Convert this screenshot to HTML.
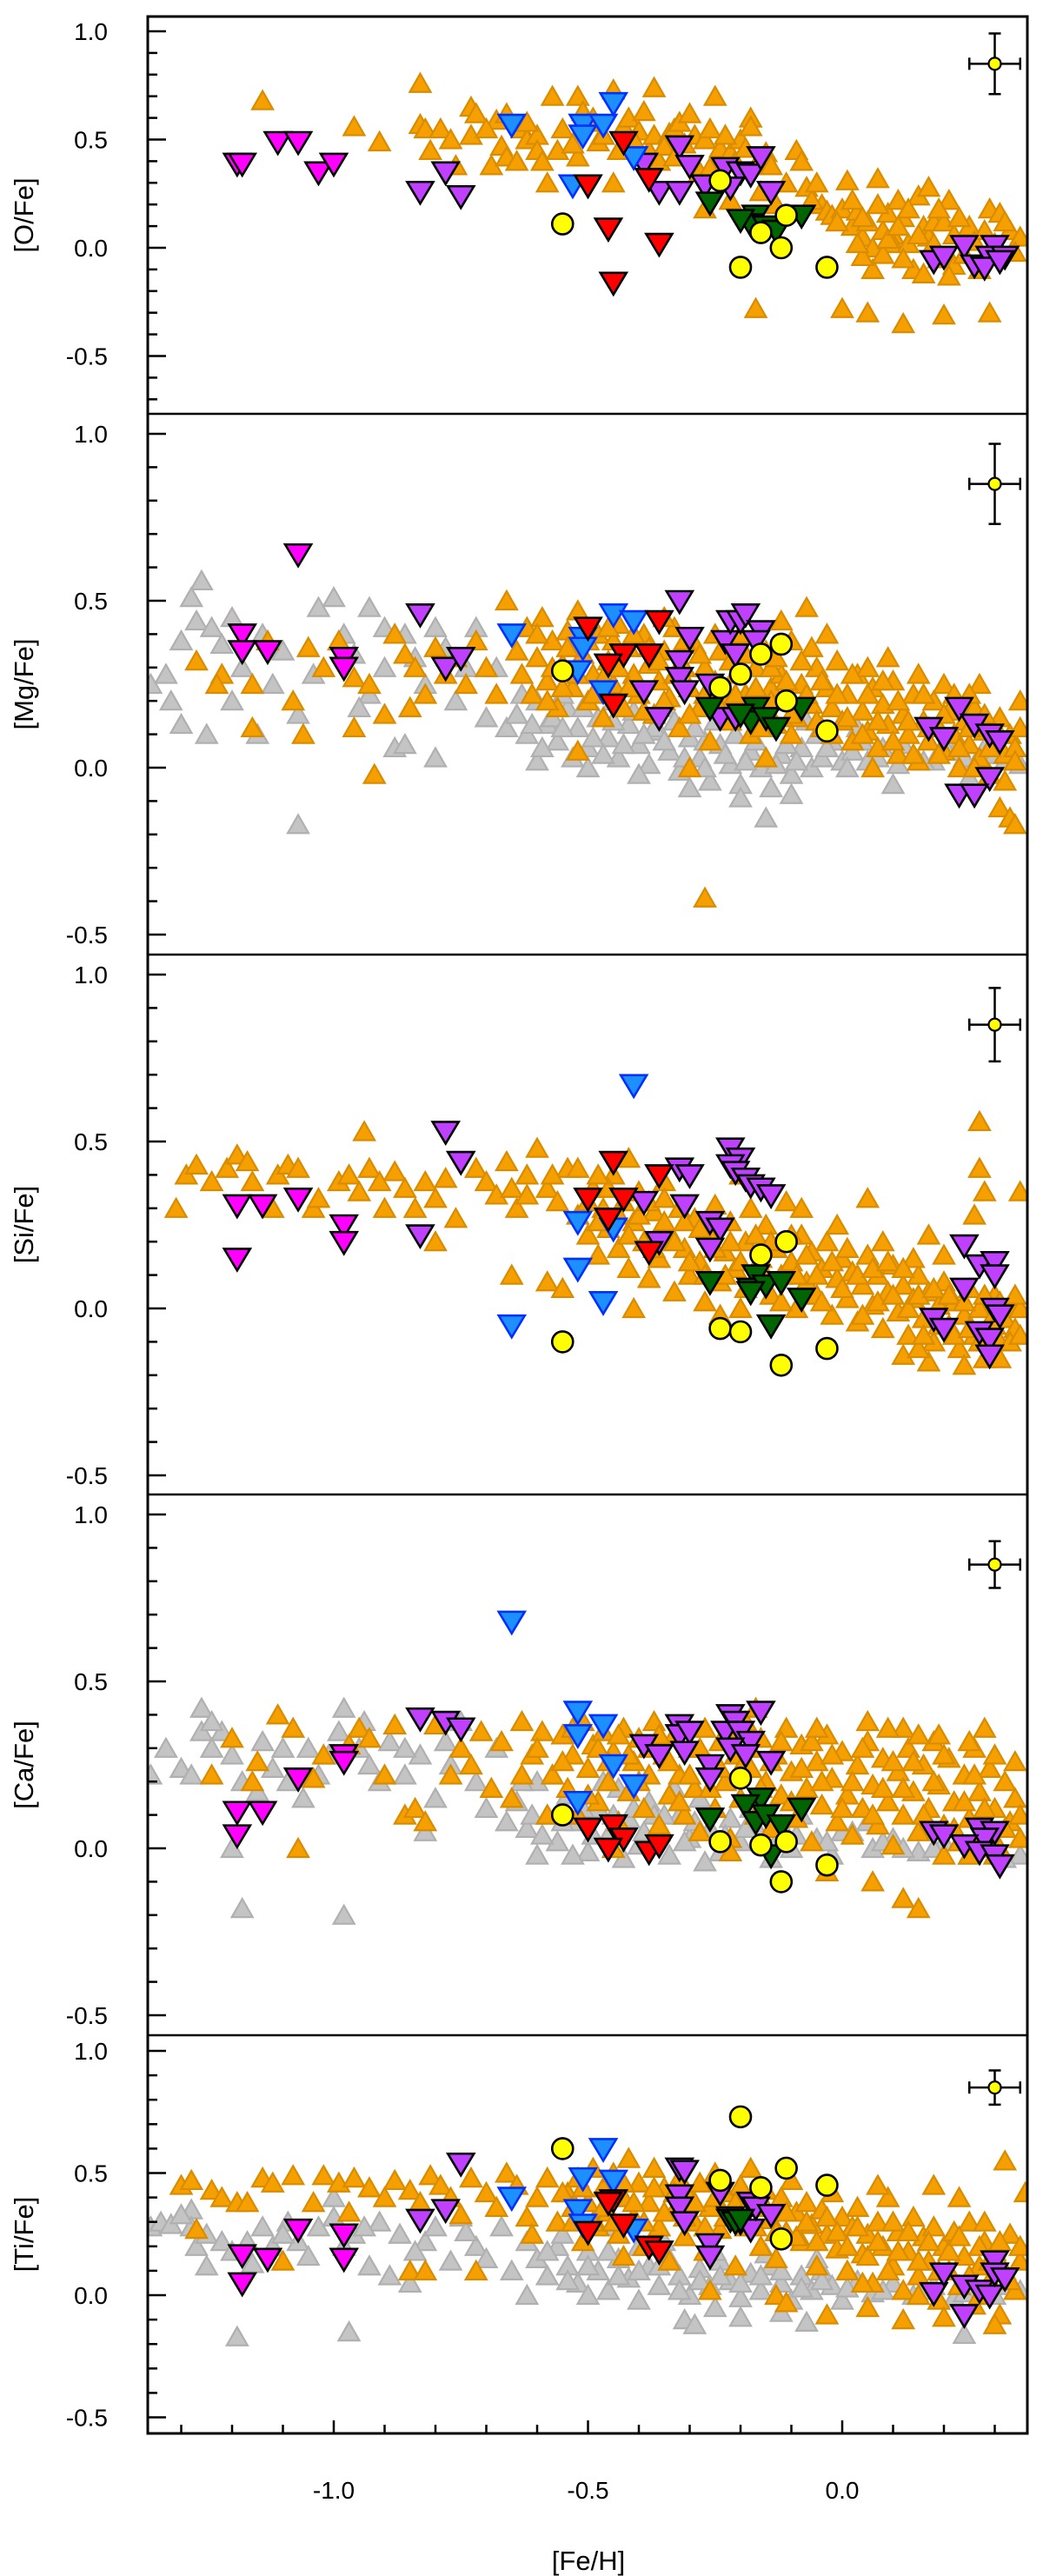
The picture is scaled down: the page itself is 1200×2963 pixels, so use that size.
<!DOCTYPE html>
<html><head><meta charset="utf-8"><title>[X/Fe] vs [Fe/H]</title>
<style>html,body{margin:0;padding:0;background:#fff}svg{display:block;font-family:"Liberation Sans",sans-serif}</style>
</head><body>
<svg id="chart" xmlns="http://www.w3.org/2000/svg" width="1200" height="2963" viewBox="0 0 1200 2963"></svg>
<script>
// ---------- data: [Fe/H], [X/Fe] pairs ----------
const oOrange=[[-1.14,0.68],[-0.96,0.56],[-0.91,0.49],[-0.83,0.76],[-0.83,0.57],[-0.82,0.55],[-0.79,0.55],[-0.81,0.45],[-0.76,0.38],[-0.73,0.65],[-0.72,0.62],[-0.73,0.52],[-0.69,0.38],[-0.68,0.59],[-0.66,0.62],[-0.67,0.47],[-0.66,0.42],[-0.64,0.40],[-0.63,0.55],[-0.62,0.50],[-0.60,0.52],[-0.60,0.45],[-0.59,0.40],[-0.58,0.30],[-0.57,0.70],[-0.56,0.45],[-0.52,0.70],[-0.52,0.42],[-0.51,0.63],[-0.50,0.58],[-0.49,0.60],[-0.48,0.49],[-0.45,0.30],[-0.45,0.73],[-0.43,0.56],[-0.42,0.60],[-0.40,0.54],[-0.39,0.63],[-0.38,0.45],[-0.37,0.74],[-0.37,0.52],[-0.36,0.40],[-0.34,0.53],[-0.33,0.55],[-0.32,0.58],[-0.31,0.48],[-0.30,0.62],[-0.29,0.52],[-0.28,0.35],[-0.27,0.18],[-0.25,0.70],[-0.24,0.46],[-0.22,0.44],[-0.20,0.50],[-0.18,0.60],[-0.18,0.56],[-0.17,0.38],[-0.16,0.26],[-0.15,0.44],[-0.13,0.20],[-0.09,0.45],[-0.08,0.40],[-0.07,0.28],[-0.04,0.20],[-0.03,0.17],[-0.02,0.15],[0.00,0.18],[0.01,0.31],[0.02,0.10],[0.03,0.17],[0.04,0.05],[0.05,0.12],[0.06,0.00],[0.06,-0.10],[0.07,0.32],[0.08,0.08],[0.09,0.16],[0.10,0.06],[0.10,0.02],[0.11,0.22],[0.12,0.14],[0.13,0.02],[0.14,-0.10],[0.15,0.24],[0.16,0.10],[0.17,0.05],[0.17,0.28],[0.18,0.12],[0.19,-0.05],[0.20,0.12],[0.21,0.22],[0.22,-0.08],[0.25,0.10],[0.27,-0.10],[0.29,0.18],[0.30,0.02],[0.31,0.16],[0.33,0.08],[0.35,0.05],[0.24,-0.03],[0.21,-0.13],[0.08,-0.03],[0.04,-0.04],[-0.17,-0.28],[0.00,-0.28],[0.05,-0.30],[0.12,-0.35],[0.20,-0.31],[0.29,-0.30],[-0.26,0.37],[-0.22,0.22]];
const oOrangeB=[[-0.55,0.55],[-0.53,0.48],[-0.47,0.52],[-0.44,0.45],[-0.41,0.50],[-0.35,0.47],[-0.33,0.42],[-0.27,0.50],[-0.26,0.55],[-0.23,0.52],[-0.21,0.40],[-0.19,0.46],[-0.14,0.38],[-0.11,0.30],[-0.06,0.22],[-0.05,0.30],[-0.01,0.12],[0.02,0.22],[0.04,0.14],[0.07,0.20],[0.09,0.04],[0.11,0.10],[0.13,0.18],[0.15,0.06],[0.18,0.02],[0.19,0.18],[0.22,0.06],[0.23,0.14],[0.26,0.03],[0.28,0.08],[0.32,0.12],[0.34,-0.02],[0.12,-0.05],[0.16,-0.12],[0.03,0.02],[-0.62,0.58],[-0.70,0.55],[-0.77,0.50]];
const oMagenta=[[-1.19,0.39],[-1.18,0.39],[-1.11,0.49],[-1.07,0.49],[-1.03,0.35],[-1.00,0.39]];
const oPurple=[[-0.83,0.26],[-0.78,0.35],[-0.75,0.24],[-0.32,0.47],[-0.39,0.39],[-0.36,0.26],[-0.32,0.26],[-0.30,0.38],[-0.27,0.29],[-0.23,0.37],[-0.20,0.35],[-0.18,0.34],[-0.16,0.42],[-0.14,0.26],[-0.22,0.28],[0.18,-0.06],[0.20,-0.04],[0.24,0.01],[0.26,-0.08],[0.30,0.01],[0.29,-0.04],[0.28,-0.09],[0.32,-0.04],[0.31,-0.06]];
const oBlue=[[-0.65,0.57],[-0.51,0.57],[-0.51,0.52],[-0.47,0.57],[-0.45,0.67],[-0.41,0.42],[-0.53,0.29]];
const oRed=[[-0.50,0.29],[-0.46,0.09],[-0.43,0.49],[-0.38,0.32],[-0.36,0.02],[-0.45,-0.16]];
const oGreen=[[-0.26,0.21],[-0.17,0.15],[-0.18,0.11],[-0.15,0.10],[-0.13,0.08],[-0.08,0.15],[-0.20,0.13]];
const oYellow=[[-0.55,0.11],[-0.24,0.31],[-0.20,-0.09],[-0.16,0.07],[-0.11,0.15],[-0.12,0.00],[-0.03,-0.09]];
const oErr=[0.30,0.85,0.05,0.14];

const mgOrange=[[-1.27,0.32],[-1.22,0.28],[-1.16,0.25],[-1.13,0.38],[-1.08,0.20],[-1.05,0.36],[-1.02,0.30],[-0.99,0.38],[-0.96,0.27],[-0.96,0.12],[-0.93,0.25],[-0.90,0.16],[-0.88,0.40],[-0.86,0.34],[-0.84,0.30],[-0.82,0.22],[-0.80,0.36],[-0.78,0.28],[-0.76,0.33],[-0.74,0.25],[-0.72,0.38],[-0.70,0.30],[-0.68,0.22],[-0.92,-0.02],[-1.23,0.25],[-1.16,0.12],[-1.06,0.10],[-0.85,0.18],[-0.66,0.50],[-0.64,0.35],[-0.63,0.28],[-0.62,0.42],[-0.61,0.22],[-0.60,0.33],[-0.59,0.45],[-0.58,0.26],[-0.57,0.38],[-0.56,0.18],[-0.55,0.31],[-0.54,0.41],[-0.53,0.24],[-0.52,0.47],[-0.51,0.34],[-0.50,0.20],[-0.49,0.28],[-0.48,0.40],[-0.47,0.15],[-0.46,0.32],[-0.45,0.25],[-0.44,0.43],[-0.43,0.18],[-0.42,0.36],[-0.41,0.28],[-0.40,0.22],[-0.39,0.40],[-0.38,0.31],[-0.37,0.16],[-0.36,0.26],[-0.35,0.35],[-0.34,0.21],[-0.33,0.42],[-0.32,0.12],[-0.31,0.30],[-0.30,0.24],[-0.29,0.37],[-0.28,0.18],[-0.27,0.30],[-0.26,0.08],[-0.25,0.26],[-0.24,0.35],[-0.23,0.20],[-0.22,0.14],[-0.21,0.28],[-0.20,0.40],[-0.19,0.22],[-0.18,0.10],[-0.17,0.30],[-0.16,0.17],[-0.15,0.35],[-0.14,0.24],[-0.13,0.13],[-0.12,0.28],[-0.11,0.20],[-0.10,0.38],[-0.09,0.15],[-0.08,0.25],[-0.07,0.48],[-0.06,0.19],[-0.05,0.30],[-0.04,0.12],[-0.03,0.24],[-0.02,0.18],[-0.01,0.32],[0.00,0.14],[0.01,0.22],[0.02,0.08],[0.03,0.28],[0.04,0.17],[0.05,0.11],[0.06,0.24],[0.07,0.06],[0.08,0.19],[0.09,0.13],[0.10,0.26],[0.11,0.04],[0.12,0.16],[0.13,0.10],[0.14,0.22],[0.15,0.02],[0.16,0.14],[0.17,0.08],[0.18,0.20],[0.19,0.12],[0.20,0.05],[0.21,0.17],[0.22,0.10],[0.23,0.00],[0.24,0.14],[0.25,0.07],[0.26,0.18],[0.27,0.03],[0.28,0.11],[0.29,-0.02],[0.30,0.08],[0.31,0.15],[0.32,0.04],[0.33,0.10],[0.34,0.06],[0.35,0.12],[0.27,0.25],[0.31,-0.12],[0.33,-0.15],[0.34,-0.17],[0.06,0.00],[-0.15,0.03],[-0.30,0.00],[-0.52,0.05],[-0.27,-0.39],[-0.14,0.30],[-0.10,0.10],[0.05,0.30],[0.15,0.28],[0.20,0.25],[-0.06,0.36],[-0.45,0.38],[-0.35,0.45]];
const mgOrangeB=[[-0.60,0.40],[-0.58,0.20],[-0.57,0.30],[-0.55,0.24],[-0.54,0.36],[-0.52,0.28],[-0.50,0.38],[-0.49,0.22],[-0.47,0.27],[-0.46,0.42],[-0.44,0.30],[-0.42,0.24],[-0.41,0.40],[-0.39,0.17],[-0.38,0.36],[-0.36,0.32],[-0.35,0.20],[-0.33,0.28],[-0.31,0.38],[-0.30,0.16],[-0.28,0.34],[-0.27,0.22],[-0.25,0.40],[-0.24,0.18],[-0.22,0.32],[-0.21,0.22],[-0.19,0.34],[-0.17,0.24],[-0.16,0.12],[-0.14,0.20],[-0.13,0.33],[-0.11,0.26],[-0.10,0.16],[-0.08,0.32],[-0.07,0.22],[-0.05,0.14],[-0.04,0.26],[-0.02,0.10],[-0.01,0.22],[0.01,0.15],[0.02,0.28],[0.04,0.10],[0.05,0.22],[0.07,0.14],[0.08,0.26],[0.10,0.08],[0.11,0.20],[0.13,0.14],[0.14,0.04],[0.16,0.22],[0.17,0.12],[0.19,0.04],[0.20,0.16],[0.22,0.22],[0.23,0.06],[0.25,0.12],[0.26,0.00],[0.28,0.16],[0.29,0.06],[0.31,0.10],[0.32,-0.04],[0.34,0.02],[0.35,0.20],[-0.12,0.44],[-0.03,0.40],[0.09,0.33],[0.25,0.22]];
const mgGrey=[[-1.36,0.25],[-1.33,0.28],[-1.30,0.38],[-1.28,0.51],[-1.26,0.56],[-1.27,0.44],[-1.24,0.42],[-1.22,0.37],[-1.30,0.13],[-1.25,0.10],[-1.20,0.20],[-1.18,0.30],[-1.15,0.10],[-1.12,0.25],[-1.10,0.35],[-1.07,0.16],[-1.04,0.28],[-1.03,0.48],[-1.00,0.51],[-0.98,0.40],[-0.96,0.34],[-0.93,0.22],[-0.93,0.48],[-0.90,0.30],[-0.88,0.06],[-0.86,0.40],[-0.84,0.33],[-0.82,0.25],[-0.80,0.42],[-0.78,0.36],[-0.76,0.20],[-0.74,0.30],[-0.72,0.42],[-0.70,0.15],[-0.68,0.30],[-0.66,0.12],[-1.07,-0.17],[-0.80,0.03],[-0.86,0.07],[-0.64,0.16],[-0.62,0.10],[-0.60,0.20],[-0.58,0.13],[-0.56,0.08],[-0.54,0.18],[-0.52,0.12],[-0.50,0.06],[-0.48,0.15],[-0.46,0.09],[-0.44,0.03],[-0.42,0.13],[-0.40,0.07],[-0.38,0.01],[-0.36,0.11],[-0.34,0.05],[-0.32,-0.01],[-0.30,0.09],[-0.28,0.03],[-0.26,-0.04],[-0.24,0.07],[-0.22,0.01],[-0.20,-0.05],[-0.18,0.05],[-0.16,0.00],[-0.14,-0.06],[-0.12,0.04],[-0.10,-0.02],[-0.08,0.06],[-0.06,0.00],[-0.04,0.03],[-0.02,0.08],[0.00,0.02],[0.02,0.05],[0.05,0.02],[0.08,0.06],[0.11,0.01],[0.14,0.04],[0.18,0.02],[0.22,0.05],[0.26,0.01],[0.30,0.04],[0.35,0.01],[-0.55,0.22],[-0.45,0.20],[-0.35,0.18],[-0.25,0.14],[-0.15,0.12],[-0.05,0.10],[-0.60,0.02],[-0.50,0.00],[-0.40,-0.02],[-0.30,-0.06],[-0.20,-0.09],[-0.10,-0.08],[0.10,-0.05],[0.25,-0.03],[-0.15,-0.15],[-0.27,0.08],[-0.37,0.12],[-0.47,0.04],[-0.57,0.15],[-0.07,0.14],[0.03,0.12]];
const mgGreyB=[[-0.63,0.22],[-0.61,0.13],[-0.59,0.06],[-0.55,0.12],[-0.53,0.03],[-0.51,0.18],[-0.49,0.09],[-0.45,0.14],[-0.43,0.07],[-0.41,0.17],[-0.39,0.10],[-0.35,0.08],[-0.33,0.14],[-0.31,0.03],[-0.29,0.12],[-0.27,0.00],[-0.23,0.04],[-0.21,0.10],[-0.19,0.02],[-0.17,0.08],[-0.13,0.01],[-0.11,0.07],[-0.09,0.02],[-0.03,0.06],[0.01,0.00],[0.04,0.08],[0.07,0.03],[0.12,0.07],[0.16,0.02],[0.20,0.07],[0.24,0.03],[0.28,0.06],[0.32,0.02],[-1.20,0.45],[-1.14,0.40],[-0.90,0.42],[-0.95,0.18],[-1.32,0.20]];
const mgMagenta=[[-1.07,0.64],[-1.18,0.40],[-1.18,0.35],[-1.13,0.35],[-0.98,0.33],[-0.98,0.30]];
const mgPurple=[[-0.83,0.46],[-0.78,0.30],[-0.75,0.33],[-0.32,0.50],[-0.30,0.39],[-0.32,0.32],[-0.32,0.27],[-0.31,0.23],[-0.39,0.23],[-0.36,0.15],[-0.26,0.25],[-0.23,0.38],[-0.22,0.44],[-0.20,0.44],[-0.19,0.46],[-0.16,0.41],[-0.21,0.34],[-0.17,0.38],[-0.24,0.15],[-0.21,0.15],[0.23,0.18],[0.17,0.12],[0.20,0.09],[0.26,0.13],[0.29,0.10],[0.31,0.08],[0.29,-0.03],[0.23,-0.08],[0.26,-0.08]];
const mgBlue=[[-0.65,0.40],[-0.51,0.39],[-0.51,0.36],[-0.52,0.29],[-0.45,0.46],[-0.41,0.44],[-0.47,0.23]];
const mgRed=[[-0.50,0.42],[-0.43,0.34],[-0.46,0.31],[-0.38,0.34],[-0.36,0.44],[-0.45,0.19]];
const mgGreen=[[-0.26,0.18],[-0.17,0.18],[-0.18,0.14],[-0.15,0.15],[-0.13,0.12],[-0.08,0.18],[-0.20,0.16]];
const mgYellow=[[-0.55,0.29],[-0.24,0.24],[-0.20,0.28],[-0.16,0.34],[-0.12,0.37],[-0.11,0.20],[-0.03,0.11]];
const mgErr=[0.30,0.85,0.05,0.12];

const siOrange=[[-1.31,0.30],[-1.29,0.40],[-1.27,0.43],[-1.24,0.38],[-1.21,0.42],[-1.19,0.46],[-1.17,0.44],[-1.16,0.38],[-1.12,0.30],[-1.11,0.40],[-1.09,0.43],[-1.07,0.42],[-1.04,0.30],[-1.03,0.33],[-0.99,0.38],[-0.97,0.40],[-0.95,0.35],[-0.93,0.42],[-0.91,0.38],[-0.90,0.30],[-0.88,0.41],[-0.86,0.36],[-0.84,0.30],[-0.82,0.38],[-0.80,0.33],[-0.78,0.39],[-0.76,0.27],[-0.72,0.42],[-0.70,0.38],[-0.68,0.34],[-0.66,0.44],[-0.64,0.30],[-0.62,0.40],[-0.60,0.48],[-0.58,0.36],[-0.56,0.32],[-0.54,0.42],[-0.94,0.53],[-0.80,0.20],[-0.65,0.10],[-0.58,0.08],[-0.55,0.06],[-0.52,0.28],[-0.50,0.22],[-0.49,0.36],[-0.48,0.16],[-0.47,0.30],[-0.46,0.24],[-0.45,0.40],[-0.44,0.18],[-0.43,0.32],[-0.42,0.12],[-0.41,0.26],[-0.40,0.35],[-0.39,0.20],[-0.38,0.09],[-0.37,0.29],[-0.36,0.15],[-0.35,0.38],[-0.34,0.23],[-0.33,0.05],[-0.32,0.30],[-0.31,0.18],[-0.30,0.10],[-0.29,0.27],[-0.28,0.14],[-0.27,0.02],[-0.26,0.22],[-0.25,0.31],[-0.24,0.08],[-0.23,0.17],[-0.22,0.26],[-0.21,0.12],[-0.20,0.00],[-0.19,0.20],[-0.18,0.30],[-0.17,0.09],[-0.16,0.15],[-0.15,0.25],[-0.14,0.04],[-0.13,0.18],[-0.12,0.10],[-0.11,0.32],[-0.10,0.14],[-0.09,0.00],[-0.08,0.22],[-0.07,0.08],[-0.06,0.17],[-0.05,0.04],[-0.04,0.12],[-0.03,0.20],[-0.02,-0.02],[-0.01,0.09],[0.00,0.15],[0.01,0.03],[0.02,0.11],[0.03,-0.04],[0.04,0.07],[0.05,0.16],[0.06,0.01],[0.07,0.10],[0.08,-0.06],[0.09,0.05],[0.10,0.13],[0.11,-0.01],[0.12,0.07],[0.13,-0.08],[0.14,0.03],[0.15,0.10],[0.16,-0.03],[0.17,0.05],[0.18,-0.10],[0.19,0.01],[0.20,0.08],[0.21,-0.05],[0.22,0.02],[0.23,-0.12],[0.24,-0.02],[0.25,0.06],[0.26,-0.08],[0.27,0.00],[0.28,-0.15],[0.29,-0.04],[0.30,0.04],[0.31,-0.10],[0.32,-0.03],[0.33,0.01],[0.34,-0.06],[0.35,0.00],[0.08,0.20],[0.05,0.33],[0.17,0.22],[0.26,0.28],[0.28,0.35],[0.27,0.42],[0.35,0.35],[0.14,0.15],[-0.01,0.25],[0.20,0.16],[0.12,-0.14],[0.17,-0.16],[0.24,-0.17],[0.31,-0.15],[0.15,-0.12],[-0.41,0.00],[-0.24,-0.02],[-0.20,0.40],[-0.08,0.30],[0.27,0.56]];
const siOrangeB=[[-0.50,0.32],[-0.48,0.26],[-0.46,0.36],[-0.44,0.28],[-0.42,0.22],[-0.40,0.28],[-0.38,0.32],[-0.37,0.18],[-0.35,0.26],[-0.33,0.20],[-0.31,0.26],[-0.30,0.14],[-0.28,0.24],[-0.27,0.10],[-0.25,0.18],[-0.23,0.10],[-0.22,0.20],[-0.20,0.14],[-0.19,0.06],[-0.17,0.22],[-0.15,0.10],[-0.14,0.20],[-0.12,0.02],[-0.10,0.22],[-0.09,0.10],[-0.07,0.16],[-0.05,0.10],[-0.04,0.02],[-0.02,0.14],[0.00,0.06],[0.01,0.18],[0.03,0.10],[0.04,-0.02],[0.06,0.12],[0.07,0.02],[0.09,0.14],[0.10,0.04],[0.12,0.12],[0.13,0.00],[0.15,0.04],[0.16,-0.08],[0.18,0.06],[0.19,-0.05],[0.21,0.04],[0.22,-0.08],[0.24,0.02],[0.25,-0.06],[0.27,-0.10],[0.28,0.04],[0.30,-0.05],[0.31,0.02],[0.33,-0.10],[0.34,0.04],[0.35,-0.08],[-0.65,0.36],[-0.62,0.34],[-0.57,0.40],[-0.52,0.42],[-0.48,0.40],[-0.42,0.45],[-0.35,0.33]];
const siMagenta=[[-1.19,0.31],[-1.14,0.31],[-1.07,0.33],[-0.98,0.25],[-0.98,0.20],[-1.19,0.15]];
const siPurple=[[-0.78,0.53],[-0.75,0.44],[-0.83,0.22],[-0.32,0.42],[-0.30,0.40],[-0.39,0.32],[-0.31,0.31],[-0.22,0.48],[-0.20,0.45],[-0.22,0.43],[-0.21,0.41],[-0.19,0.39],[-0.18,0.37],[-0.16,0.36],[-0.14,0.34],[-0.26,0.26],[-0.24,0.24],[-0.26,0.18],[-0.36,0.20],[0.24,0.19],[0.27,0.13],[0.30,0.14],[0.30,0.10],[0.24,0.06],[0.18,-0.03],[0.20,-0.06],[0.27,-0.07],[0.29,-0.09],[0.30,0.00],[0.31,-0.02],[0.29,-0.14]];
const siBlue=[[-0.41,0.67],[-0.52,0.26],[-0.45,0.24],[-0.52,0.12],[-0.47,0.02],[-0.65,-0.05]];
const siRed=[[-0.45,0.44],[-0.36,0.40],[-0.50,0.33],[-0.43,0.33],[-0.46,0.27],[-0.38,0.17]];
const siGreen=[[-0.26,0.08],[-0.17,0.10],[-0.18,0.06],[-0.15,0.07],[-0.12,0.08],[-0.18,0.05],[-0.08,0.03],[-0.14,-0.05]];
const siYellow=[[-0.55,-0.10],[-0.24,-0.06],[-0.20,-0.07],[-0.16,0.16],[-0.11,0.20],[-0.12,-0.17],[-0.03,-0.12]];
const siErr=[0.30,0.85,0.05,0.11];

const caOrange=[[-1.24,0.22],[-1.20,0.33],[-1.16,0.20],[-1.15,0.26],[-1.11,0.40],[-1.08,0.36],[-1.04,0.21],[-1.02,0.28],[-1.07,0.00],[-0.97,0.31],[-0.95,0.36],[-0.93,0.33],[-0.90,0.22],[-0.88,0.37],[-0.86,0.10],[-0.84,0.12],[-0.82,0.08],[-0.80,0.37],[-0.77,0.22],[-0.75,0.30],[-0.73,0.25],[-0.71,0.35],[-0.69,0.18],[-0.67,0.32],[-0.65,0.15],[-0.63,0.38],[-0.61,0.28],[-0.59,0.35],[-0.57,0.22],[-0.55,0.34],[-0.54,0.18],[-0.53,0.28],[-0.52,0.10],[-0.51,0.38],[-0.50,0.24],[-0.49,0.31],[-0.48,0.14],[-0.47,0.35],[-0.46,0.20],[-0.45,0.29],[-0.44,0.08],[-0.43,0.36],[-0.42,0.17],[-0.41,0.26],[-0.40,0.33],[-0.39,0.12],[-0.38,0.22],[-0.37,0.38],[-0.36,0.07],[-0.35,0.28],[-0.34,0.16],[-0.33,0.34],[-0.32,0.22],[-0.31,0.10],[-0.30,0.30],[-0.29,0.18],[-0.28,0.05],[-0.27,0.36],[-0.26,0.25],[-0.25,0.12],[-0.24,0.32],[-0.23,0.20],[-0.22,0.03],[-0.21,0.28],[-0.20,0.15],[-0.19,0.38],[-0.18,0.24],[-0.17,0.10],[-0.16,0.33],[-0.15,0.20],[-0.14,0.06],[-0.13,0.28],[-0.12,0.16],[-0.11,0.36],[-0.10,0.23],[-0.09,0.09],[-0.08,0.31],[-0.07,0.18],[-0.06,0.02],[-0.05,0.26],[-0.04,0.13],[-0.03,0.34],[-0.02,0.21],[-0.01,0.08],[0.00,0.29],[0.01,0.16],[0.02,0.04],[0.03,0.25],[0.04,0.12],[0.05,0.32],[0.06,0.19],[0.07,0.07],[0.08,0.27],[0.09,0.14],[0.10,0.01],[0.11,0.23],[0.12,0.10],[0.13,0.30],[0.14,0.17],[0.15,0.05],[0.16,0.25],[0.17,0.12],[0.18,0.32],[0.19,0.19],[0.20,0.07],[0.21,0.27],[0.22,0.14],[0.23,0.02],[0.24,0.22],[0.25,0.09],[0.26,0.30],[0.27,0.17],[0.28,0.04],[0.29,0.24],[0.30,0.12],[0.31,0.00],[0.32,0.20],[0.33,0.08],[0.34,0.15],[0.35,0.03],[0.05,0.38],[0.12,0.36],[0.19,0.34],[0.25,0.32],[-0.17,0.42],[0.06,-0.10],[0.12,-0.15],[0.15,-0.18],[-0.03,-0.07],[0.25,-0.02],[0.30,-0.02],[0.20,-0.02],[-0.22,-0.01],[-0.45,0.00]];
const caOrangeB=[[-0.55,0.26],[-0.53,0.36],[-0.50,0.16],[-0.48,0.30],[-0.46,0.26],[-0.44,0.34],[-0.42,0.28],[-0.40,0.20],[-0.38,0.30],[-0.36,0.34],[-0.34,0.26],[-0.32,0.14],[-0.30,0.22],[-0.28,0.30],[-0.26,0.18],[-0.24,0.24],[-0.22,0.34],[-0.20,0.24],[-0.18,0.30],[-0.16,0.18],[-0.14,0.26],[-0.12,0.32],[-0.10,0.14],[-0.08,0.24],[-0.06,0.32],[-0.04,0.20],[-0.02,0.28],[0.00,0.12],[0.02,0.20],[0.04,0.30],[0.06,0.10],[0.08,0.18],[0.10,0.26],[0.12,0.18],[0.14,0.26],[0.16,0.10],[0.18,0.20],[0.20,0.28],[0.22,0.06],[0.24,0.14],[0.26,0.22],[0.28,0.12],[0.30,0.28],[0.32,0.06],[0.34,0.26],[0.35,0.10],[-0.60,0.30],[-0.63,0.22],[-0.58,0.10],[0.09,0.36],[0.28,0.36],[-0.05,0.36],[0.15,0.34]];
const caGrey=[[-1.36,0.22],[-1.33,0.30],[-1.30,0.24],[-1.28,0.22],[-1.26,0.42],[-1.26,0.35],[-1.24,0.30],[-1.22,0.35],[-1.20,0.28],[-1.18,0.20],[-1.15,0.17],[-1.12,0.24],[-1.10,0.30],[-1.09,0.20],[-1.06,0.15],[-1.03,0.22],[-1.01,0.28],[-0.99,0.35],[-0.98,0.42],[-0.95,0.30],[-0.93,0.25],[-0.91,0.20],[-0.89,0.32],[-0.86,0.22],[-0.83,0.28],[-0.80,0.15],[-0.77,0.25],[-0.75,0.38],[-0.72,0.20],[-0.70,0.12],[-0.68,0.30],[-0.66,0.08],[-1.18,-0.18],[-0.98,-0.20],[-1.20,0.00],[-0.82,0.05],[-0.64,0.14],[-0.62,0.06],[-0.60,0.20],[-0.58,0.10],[-0.56,0.02],[-0.54,0.16],[-0.52,0.08],[-0.50,-0.01],[-0.48,0.12],[-0.46,0.04],[-0.44,0.18],[-0.42,0.09],[-0.40,0.01],[-0.38,0.14],[-0.36,0.05],[-0.34,-0.02],[-0.32,0.10],[-0.30,0.03],[-0.28,0.15],[-0.26,0.06],[-0.24,-0.01],[-0.22,0.09],[-0.20,0.02],[-0.18,0.12],[-0.16,0.04],[-0.14,-0.03],[-0.12,0.07],[-0.10,0.00],[-0.08,0.10],[-0.05,0.03],[-0.02,-0.02],[0.02,0.05],[0.06,0.00],[0.10,0.03],[0.15,-0.01],[0.20,0.02],[0.25,-0.02],[0.30,0.00],[0.35,-0.02],[-0.57,0.22],[-0.47,0.20],[-0.53,-0.02],[-0.43,-0.03],[-0.33,0.18],[-0.25,0.12],[-0.15,0.10],[0.05,0.08],[-0.60,-0.02],[-0.37,0.10],[-0.27,-0.04]];
const caGreyB=[[-0.63,0.20],[-0.61,0.10],[-0.59,0.04],[-0.55,0.08],[-0.51,0.12],[-0.49,0.04],[-0.45,0.10],[-0.41,0.12],[-0.39,0.05],[-0.35,0.10],[-0.31,0.02],[-0.29,0.08],[-0.23,0.04],[-0.19,0.06],[-0.13,0.02],[-0.09,0.04],[-0.03,0.02],[0.00,0.05],[0.08,0.02],[0.12,0.00],[0.18,0.00],[0.27,0.01],[0.32,-0.03],[-1.24,0.38],[-1.14,0.32],[-1.05,0.30],[-0.94,0.38],[-0.86,0.30],[-0.78,0.32]];
const caMagenta=[[-1.19,0.11],[-1.14,0.11],[-1.19,0.04],[-1.07,0.21],[-0.98,0.28],[-0.98,0.26]];
const caPurple=[[-0.83,0.39],[-0.78,0.38],[-0.75,0.36],[-0.32,0.37],[-0.32,0.34],[-0.30,0.35],[-0.31,0.29],[-0.39,0.31],[-0.36,0.28],[-0.22,0.40],[-0.21,0.38],[-0.16,0.41],[-0.23,0.35],[-0.20,0.35],[-0.18,0.32],[-0.22,0.30],[-0.19,0.28],[-0.14,0.26],[-0.26,0.25],[-0.26,0.21],[0.18,0.05],[0.20,0.04],[0.27,0.06],[0.30,0.05],[0.28,0.03],[0.24,0.01],[0.27,-0.01],[0.30,-0.02],[0.31,-0.05]];
const caBlue=[[-0.65,0.68],[-0.52,0.41],[-0.47,0.37],[-0.52,0.34],[-0.45,0.25],[-0.41,0.19],[-0.52,0.14]];
const caRed=[[-0.50,0.06],[-0.45,0.07],[-0.43,0.03],[-0.46,0.00],[-0.38,-0.01],[-0.36,0.01]];
const caGreen=[[-0.16,0.15],[-0.19,0.13],[-0.17,0.08],[-0.15,0.10],[-0.12,0.07],[-0.08,0.12],[-0.26,0.09],[-0.14,-0.02]];
const caYellow=[[-0.55,0.10],[-0.20,0.21],[-0.24,0.02],[-0.16,0.01],[-0.11,0.02],[-0.03,-0.05],[-0.12,-0.10]];
const caErr=[0.30,0.85,0.05,0.07];

const tiOrange=[[-1.30,0.45],[-1.28,0.47],[-1.24,0.43],[-1.22,0.40],[-1.19,0.38],[-1.17,0.38],[-1.27,0.27],[-1.14,0.48],[-1.12,0.46],[-1.08,0.49],[-1.02,0.49],[-0.99,0.46],[-0.96,0.48],[-1.04,0.38],[-1.10,0.14],[-0.97,0.34],[-0.93,0.44],[-0.90,0.40],[-0.88,0.47],[-0.85,0.43],[-0.83,0.38],[-0.81,0.49],[-0.79,0.45],[-0.77,0.40],[-0.75,0.33],[-0.85,0.10],[-0.82,0.10],[-0.73,0.48],[-0.70,0.42],[-0.68,0.36],[-0.66,0.50],[-0.64,0.45],[-0.62,0.32],[-0.60,0.40],[-0.58,0.48],[-0.56,0.30],[-0.72,0.10],[-0.61,0.25],[-0.54,0.42],[-0.53,0.30],[-0.52,0.48],[-0.51,0.22],[-0.50,0.38],[-0.49,0.52],[-0.48,0.28],[-0.47,0.44],[-0.46,0.34],[-0.45,0.50],[-0.44,0.25],[-0.43,0.40],[-0.42,0.56],[-0.41,0.32],[-0.40,0.46],[-0.39,0.20],[-0.38,0.38],[-0.37,0.52],[-0.36,0.28],[-0.35,0.44],[-0.34,0.14],[-0.33,0.35],[-0.32,0.48],[-0.31,0.24],[-0.30,0.40],[-0.29,0.30],[-0.28,0.46],[-0.27,0.18],[-0.26,0.36],[-0.25,0.50],[-0.24,0.27],[-0.23,0.42],[-0.22,0.33],[-0.21,0.12],[-0.20,0.45],[-0.19,0.28],[-0.18,0.52],[-0.17,0.38],[-0.16,0.20],[-0.15,0.43],[-0.14,0.31],[-0.13,0.15],[-0.12,0.40],[-0.11,0.26],[-0.10,0.47],[-0.09,0.34],[-0.08,0.22],[-0.07,0.38],[-0.06,0.29],[-0.05,0.12],[-0.04,0.35],[-0.03,0.25],[-0.02,0.42],[-0.01,0.19],[0.00,0.32],[0.01,0.10],[0.02,0.28],[0.03,0.36],[0.04,0.17],[0.05,0.25],[0.06,0.05],[0.07,0.30],[0.08,0.20],[0.09,0.40],[0.10,0.12],[0.11,0.26],[0.12,0.02],[0.13,0.18],[0.14,0.32],[0.15,0.08],[0.16,0.24],[0.17,0.14],[0.18,0.28],[0.19,-0.02],[0.20,0.20],[0.21,0.10],[0.22,0.26],[0.23,0.04],[0.24,0.16],[0.25,0.30],[0.26,-0.04],[0.27,0.12],[0.28,0.22],[0.29,0.06],[0.30,0.18],[0.31,-0.08],[0.32,0.10],[0.33,0.25],[0.34,0.02],[0.35,0.14],[0.07,0.45],[0.18,0.45],[0.23,0.40],[0.32,0.55],[0.36,0.42],[0.12,-0.10],[0.20,-0.09],[0.30,-0.12],[0.05,-0.05],[-0.03,-0.08],[-0.26,0.02],[-0.13,0.00],[-0.11,-0.03],[-0.43,0.16]];
const tiOrangeB=[[-0.55,0.42],[-0.53,0.36],[-0.51,0.44],[-0.49,0.30],[-0.47,0.36],[-0.45,0.30],[-0.43,0.46],[-0.41,0.38],[-0.39,0.30],[-0.37,0.44],[-0.35,0.34],[-0.33,0.42],[-0.31,0.32],[-0.29,0.38],[-0.27,0.28],[-0.25,0.40],[-0.23,0.32],[-0.21,0.38],[-0.19,0.36],[-0.17,0.28],[-0.15,0.36],[-0.13,0.26],[-0.11,0.34],[-0.09,0.24],[-0.07,0.30],[-0.05,0.22],[-0.03,0.32],[-0.01,0.26],[0.01,0.20],[0.03,0.28],[0.05,0.16],[0.07,0.22],[0.09,0.10],[0.11,0.18],[0.13,0.26],[0.15,0.14],[0.17,0.22],[0.19,0.10],[0.21,0.18],[0.23,0.24],[0.25,0.08],[0.27,0.20],[0.29,0.14],[0.31,0.22],[0.33,0.06],[0.35,0.20],[0.10,0.30],[0.28,0.30],[0.04,0.05],[0.15,0.00],[0.27,0.00]];
const tiGrey=[[-1.36,0.28],[-1.34,0.30],[-1.32,0.29],[-1.28,0.35],[-1.28,0.28],[-1.27,0.20],[-1.25,0.25],[-1.22,0.22],[-1.20,0.18],[-1.17,0.22],[-1.16,0.13],[-1.14,0.28],[-1.12,0.20],[-1.09,0.30],[-1.07,0.22],[-1.05,0.16],[-1.03,0.28],[-1.00,0.32],[-0.98,0.20],[-0.96,0.25],[-0.93,0.12],[-0.91,0.30],[-0.89,0.08],[-0.87,0.25],[-0.85,0.05],[-0.82,0.22],[-0.80,0.28],[-0.77,0.14],[-0.75,0.32],[-0.72,0.20],[-0.70,0.15],[-0.67,0.28],[-0.65,0.10],[-0.62,0.22],[-1.19,-0.17],[-0.97,-0.15],[-1.25,0.12],[-1.00,0.40],[-0.60,0.15],[-0.58,0.08],[-0.56,0.20],[-0.54,0.12],[-0.52,0.05],[-0.50,0.18],[-0.48,0.10],[-0.46,0.02],[-0.44,0.15],[-0.42,0.07],[-0.40,0.20],[-0.38,0.12],[-0.36,0.04],[-0.34,0.15],[-0.32,0.08],[-0.30,0.00],[-0.28,0.11],[-0.26,0.04],[-0.24,0.14],[-0.22,0.06],[-0.20,-0.01],[-0.18,0.09],[-0.16,0.02],[-0.14,0.12],[-0.12,0.05],[-0.10,-0.02],[-0.08,0.08],[-0.06,0.02],[-0.04,0.10],[-0.02,0.04],[0.00,-0.02],[0.03,0.06],[0.06,0.01],[0.10,0.05],[0.14,0.00],[0.18,0.04],[0.22,-0.01],[0.26,0.03],[0.30,0.00],[0.35,0.02],[-0.31,-0.10],[-0.29,-0.12],[-0.20,-0.09],[-0.07,-0.11],[0.24,-0.16],[-0.55,0.25],[-0.45,0.28],[-0.35,0.22],[-0.25,0.18],[-0.15,0.17],[-0.05,0.15],[-0.62,0.00],[-0.50,0.00],[-0.40,-0.02],[-0.25,-0.05],[-0.12,-0.07]];
const tiGreyB=[[-0.58,0.18],[-0.54,0.06],[-0.50,0.12],[-0.46,0.18],[-0.44,0.08],[-0.40,0.10],[-0.36,0.12],[-0.32,0.02],[-0.28,0.06],[-0.24,0.08],[-0.20,0.05],[-0.16,0.08],[-0.12,0.10],[-0.08,0.03],[-0.04,0.06],[0.01,0.03],[0.08,0.02],[0.16,0.02],[0.24,0.01],[0.32,0.04],[-1.30,0.33],[-1.10,0.25],[-0.94,0.28],[-0.84,0.18],[-0.74,0.26]];
const tiMagenta=[[-1.18,0.165],[-1.13,0.15],[-1.18,0.05],[-1.07,0.27],[-0.98,0.25],[-0.98,0.15]];
const tiPurple=[[-0.83,0.31],[-0.78,0.35],[-0.75,0.54],[-0.32,0.52],[-0.31,0.51],[-0.32,0.41],[-0.32,0.36],[-0.31,0.30],[-0.26,0.21],[-0.26,0.16],[-0.24,0.42],[-0.22,0.32],[-0.20,0.30],[-0.18,0.27],[-0.18,0.38],[-0.17,0.36],[-0.14,0.33],[0.18,0.01],[0.20,0.09],[0.24,0.04],[0.24,-0.08],[0.27,0.02],[0.29,0.00],[0.30,0.14],[0.30,0.09],[0.32,0.07]];
const tiBlue=[[-0.47,0.60],[-0.65,0.40],[-0.51,0.48],[-0.45,0.47],[-0.52,0.35],[-0.51,0.29],[-0.41,0.27]];
const tiRed=[[-0.45,0.39],[-0.46,0.38],[-0.50,0.26],[-0.43,0.29],[-0.38,0.20],[-0.36,0.18]];
const tiGreen=[[-0.22,0.31],[-0.21,0.30],[-0.20,0.31]];
const tiYellow=[[-0.55,0.60],[-0.20,0.73],[-0.24,0.47],[-0.16,0.44],[-0.11,0.52],[-0.03,0.45],[-0.12,0.23]];
const tiErr=[0.30,0.85,0.05,0.07];

const yTickLabels=["1.0","0.5","0.0","-0.5"];
const yTickValues=[1.0,0.5,0.0,-0.5];
const xTickLabels=["-1.0","-0.5","0.0"];
const xTickValues=[-1.0,-0.5,0.0];

// ---------- layout ----------
const NS="http://www.w3.org/2000/svg";
const svg=document.getElementById('chart');
const X0=969, XU=585, LEFT=170, RIGHT=1182;
function xPix(v){return X0+v*XU;}
const panels=[
 {id:'o',label:'[O/Fe]',top:19,bottom:476,y0:285,unit:249,orange:oOrange.concat(oOrangeB),grey:null,mag:oMagenta,pur:oPurple,blue:oBlue,red:oRed,green:oGreen,yel:oYellow,err:oErr},
 {id:'mg',label:'[Mg/Fe]',top:476,bottom:1098,y0:883,unit:384,orange:mgOrange.concat(mgOrangeB),grey:mgGrey.concat(mgGreyB),mag:mgMagenta,pur:mgPurple,blue:mgBlue,red:mgRed,green:mgGreen,yel:mgYellow,err:mgErr},
 {id:'si',label:'[Si/Fe]',top:1098,bottom:1719,y0:1505,unit:384,orange:siOrange.concat(siOrangeB),grey:null,mag:siMagenta,pur:siPurple,blue:siBlue,red:siRed,green:siGreen,yel:siYellow,err:siErr},
 {id:'ca',label:'[Ca/Fe]',top:1719,bottom:2341,y0:2126,unit:384,orange:caOrange.concat(caOrangeB),grey:caGrey.concat(caGreyB),mag:caMagenta,pur:caPurple,blue:caBlue,red:caRed,green:caGreen,yel:caYellow,err:caErr},
 {id:'ti',label:'[Ti/Fe]',top:2341,bottom:2799,y0:2640,unit:281,orange:tiOrange.concat(tiOrangeB),grey:tiGrey.concat(tiGreyB),mag:tiMagenta,pur:tiPurple,blue:tiBlue,red:tiRed,green:tiGreen,yel:tiYellow,err:tiErr}
];
function mk(tag,attrs,parent){const e=document.createElementNS(NS,tag);for(const k in attrs)e.setAttribute(k,attrs[k]);(parent||svg).appendChild(e);return e;}
const defs=mk('defs',{});

panels.forEach(function(p){
  const yPix=function(v){return p.y0-v*p.unit;};
  const cp=mk('clipPath',{id:'clip-'+p.id},defs);
  mk('rect',{x:LEFT,y:p.top,width:RIGHT-LEFT,height:p.bottom-p.top},cp);
  const g=mk('g',{'clip-path':'url(#clip-'+p.id+')'});
  
  
  function up(arr,fill,stroke,name){
    arr.forEach(function(d){
      const cx=xPix(d[0]),cy=yPix(d[1]);
      const t=mk('polygon',{points:(cx-12)+','+(cy+10)+' '+(cx+12)+','+(cy+10)+' '+cx+','+(cy-11),fill:fill,stroke:stroke,'stroke-width':2.2},g);
      
      
    });
  }
  function down(arr,fill,stroke,name){
    arr.forEach(function(d){
      const cx=xPix(d[0]),cy=yPix(d[1]);
      const t=mk('polygon',{points:(cx-15)+','+(cy-11)+' '+(cx+15)+','+(cy-11)+' '+cx+','+(cy+14),fill:fill,stroke:stroke,'stroke-width':2.6},g);
      
      
    });
  }
  if(p.grey) up(p.grey,'#c4c4c4','#b0b0b0','field-star-grey');
  up(p.orange,'#f5a000','#d98c00','field-star-orange');
  down(p.mag,'#ff00ff','#000','star-magenta');
  down(p.pur,'#c040ff','#000','star-purple');
  down(p.blue,'#1e8fff','#0030ff','star-blue');
  down(p.red,'#ff0000','#000','star-red');
  down(p.green,'#006400','#000','star-green');
  p.yel.forEach(function(d){
    const c=mk('circle',{cx:xPix(d[0]),cy:yPix(d[1]),r:12,fill:'#ffff00',stroke:'#000','stroke-width':2.6},g);
    
    
  });
  const e=p.err, ex=xPix(e[0]), ey=yPix(e[1]);
  const eg=mk('g',{stroke:'#000','stroke-width':2.5},g);
  
  
  const x1=xPix(e[0]-e[2]),x2=xPix(e[0]+e[2]),y1=yPix(e[1]+e[3]),y2=yPix(e[1]-e[3]);
  mk('line',{x1:x1,y1:ey,x2:x2,y2:ey},eg);
  mk('line',{x1:ex,y1:y1,x2:ex,y2:y2},eg);
  mk('line',{x1:x1,y1:ey-7,x2:x1,y2:ey+7},eg);
  mk('line',{x1:x2,y1:ey-7,x2:x2,y2:ey+7},eg);
  mk('line',{x1:ex-7,y1:y1,x2:ex+7,y2:y1},eg);
  mk('line',{x1:ex-7,y1:y2,x2:ex+7,y2:y2},eg);
  mk('circle',{cx:ex,cy:ey,r:7,fill:'#ffff00','stroke-width':2.2},eg);

  const tg=mk('g',{stroke:'#000','stroke-width':2.5});
  
  
  for(let k=-8;k<=10;k++){
    const v=k/10, y=yPix(v);
    if(y<p.top+3||y>p.bottom-3) continue;
    const major=(k%5===0);
    mk('line',{x1:LEFT,y1:y,x2:LEFT+(major?21:11),y2:y},tg);
  }
  yTickValues.forEach(function(v,i){
    const y=yPix(v);
    if(y<p.top-2||y>p.bottom+2) return;
    const t=mk('text',{x:124,y:y+10,'text-anchor':'end','font-size':28,fill:'#000'});
    t.textContent=yTickLabels[i];
    
    
  });
  const cyl=(p.top+p.bottom)/2;
  const lab=mk('text',{x:0,y:0,transform:'translate(38,'+cyl+') rotate(-90)','text-anchor':'middle','font-size':31,fill:'#000'});
  lab.textContent=p.label;
  
  
});

const fr=mk('g',{stroke:'#000','stroke-width':3,fill:'none'});


mk('rect',{x:LEFT,y:19,width:RIGHT-LEFT,height:2799-19},fr);
[476,1098,1719,2341].forEach(function(y){mk('line',{x1:LEFT,y1:y,x2:RIGHT,y2:y,'stroke-width':2.5},fr);});

const xg=mk('g',{stroke:'#000','stroke-width':2.5});


for(let k=-13;k<=3;k++){
  const x=xPix(k/10);
  mk('line',{x1:x,y1:2799,x2:x,y2:2799-((k%5===0)?15:10)},xg);
}
xTickValues.forEach(function(v,i){
  const t=mk('text',{x:xPix(v),y:2874,'text-anchor':'middle','font-size':28,fill:'#000'});
  t.textContent=xTickLabels[i];
  
  
});
const xt=mk('text',{x:677,y:2956,'text-anchor':'middle','font-size':31,fill:'#000'});
xt.textContent='[Fe/H]';


</script>
</body></html>
